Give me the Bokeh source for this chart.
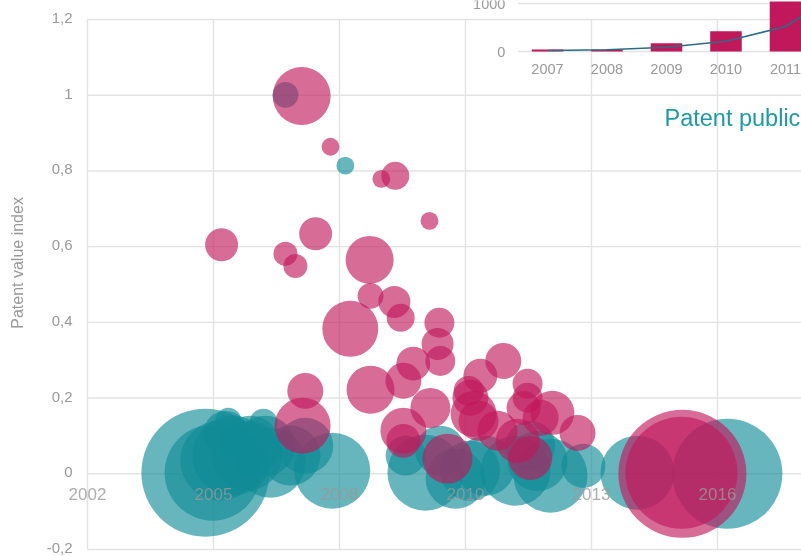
import math
from bokeh.plotting import figure
from bokeh.models import Range1d
from bokeh.core.properties import value
from bokeh.embed import file_html
from bokeh.resources import INLINE

# ---------------- data ----------------
x_tick_values = [2002.0, 2004.8, 2007.6, 2010.4, 2013.2, 2016.0]
x_tick_labels = ["2002", "2005", "2008", "2010", "2013", "2016"]
y_tick_values = [-0.2, 0.0, 0.2, 0.4, 0.6, 0.8, 1.0, 1.2]
y_tick_labels = ["-0,2", "0", "0,2", "0,4", "0,6", "0,8", "1", "1,2"]
y_title = "Patent value index"

teal_year = [2006.40, 2007.73, 2004.62, 2004.78, 2005.22, 2005.07, 2005.13, 2005.91,
             2006.07, 2005.62, 2006.84, 2007.44, 2006.51, 2009.51, 2010.18, 2010.84,
             2011.51, 2012.29, 2013.02, 2009.84, 2011.84, 2009.07, 2014.22, 2016.22,
             2004.95, 2005.55, 2005.95, 2010.50, 2012.00]
teal_value = [1.001, 0.814, 0.003, 0.003, 0.048, 0.108, 0.140, 0.135,
              0.029, 0.074, 0.074, 0.008, 0.048, 0.003, -0.013, 0.021,
              0.008, -0.005, 0.021, 0.061, 0.074, 0.048, 0.003, 0.0,
              0.035, 0.048, 0.074, 0.008, 0.034]
teal_patents = [42, 20, 1024, 576, 400, 121, 42, 49,
                306, 225, 196, 361, 225, 361, 225, 225,
                306, 342, 121, 156, 156, 100, 342, 756,
                400, 306, 225, 225, 225]

mag_year = [2006.76, 2007.40, 2008.53, 2008.84, 2009.60, 2004.98, 2007.07, 2006.40,
            2006.62, 2008.27, 2008.29, 2008.82, 2008.96, 2007.84, 2009.82, 2009.78,
            2009.84, 2008.29, 2009.02, 2009.24, 2009.62, 2009.02, 2006.84, 2006.78,
            2011.24, 2010.73, 2010.47, 2011.78, 2011.78, 2010.58, 2010.51, 2010.69,
            2012.33, 2012.89, 2011.69, 2012.07, 2011.56, 2010.00, 2011.84, 2009.02,
            2011.11, 2015.22, 2015.20]
mag_value = [0.998, 0.864, 0.779, 0.787, 0.668, 0.605, 0.634, 0.581,
             0.549, 0.565, 0.470, 0.454, 0.412, 0.383, 0.399, 0.343,
             0.298, 0.222, 0.246, 0.291, 0.174, 0.114, 0.219, 0.127,
             0.298, 0.259, 0.219, 0.238, 0.201, 0.158, 0.201, 0.140,
             0.161, 0.108, 0.174, 0.148, 0.087, 0.040, 0.042, 0.087,
             0.114, 0.0, 0.003]
mag_patents = [210, 20, 20, 49, 20, 68, 68, 36,
               36, 144, 42, 64, 49, 196, 56, 64,
               56, 144, 81, 72, 100, 132, 81, 196,
               81, 72, 56, 56, 56, 132, 81, 100,
               121, 81, 72, 81, 121, 156, 121, 72,
               100, 1024, 784]

inset_years = [2007, 2008, 2009, 2010, 2011]
inset_bars = [40, 35, 170, 420, 1040]
inset_line_years = [2007, 2008, 2009, 2010, 2011, 2012]
inset_line = [20, 35, 90, 215, 520, 1300]
inset_ticks = [0, 1000]
inset_tick_labels = ["0", "1000"]
inset_title = "Patent publications"

# ---------------- styles ----------------
TEAL = "#108c96"
MAG = "#c0185a"
GRID = "#e3e3e3"
LABEL = "#999999"
FONT = value("Liberation Sans")

x_start, x_end = 2000.067, 2017.867
p = figure(width=801, height=556, output_backend="svg", toolbar_location=None,
           x_range=Range1d(x_start, x_end), y_range=Range1d(-0.2185, 1.2502),
           x_axis_location=None, y_axis_location=None, min_border_left=0,
           min_border_right=0, min_border_top=0, min_border_bottom=0)
p.styles = {"position": "fixed", "left": "0px", "top": "0px"}
p.outline_line_color = None
p.xgrid.visible = False
p.ygrid.visible = False

# grid lines
x0 = x_tick_values[0]
ymin, ymax = y_tick_values[0], y_tick_values[-1]
p.segment(x0=x_tick_values, x1=x_tick_values, y0=[ymin] * len(x_tick_values),
          y1=[ymax] * len(x_tick_values), line_color=GRID, line_width=1.4)
p.segment(x0=[x0] * len(y_tick_values), x1=[x_end] * len(y_tick_values),
          y0=y_tick_values, y1=y_tick_values, line_color=GRID, line_width=1.4)

# y tick labels and title
p.text(x=[x0] * len(y_tick_values), y=y_tick_values, text=y_tick_labels, x_offset=-15,
       y_offset=-1.5, text_align="right", text_baseline="middle", text_font=FONT,
       text_font_size="15px", text_color=LABEL)
p.text(x=[x0], y=[0.557], text=[y_title], x_offset=-70, angle=math.pi / 2,
       text_align="center", text_baseline="middle", text_font=FONT,
       text_font_size="16px", text_color=LABEL)

# inset chart on extra ranges
ix_end = 2011.269
p.extra_x_ranges = {"ix": Range1d(1997.807, ix_end)}
p.extra_y_ranges = {"iy": Range1d(-10520.8, 1062.5)}
ix0 = inset_years[0] - 0.49
p.segment(x0=[ix0] * 2, x1=[ix_end] * 2, y0=inset_ticks, y1=inset_ticks,
          line_color=GRID, line_width=1.4, x_range_name="ix", y_range_name="iy")
p.vbar(x=inset_years, top=inset_bars, bottom=0, width=0.53, fill_color=MAG,
       line_color=None, x_range_name="ix", y_range_name="iy")
p.line(x=inset_line_years, y=inset_line, line_color="#2d6b84", line_width=1.6,
       x_range_name="ix", y_range_name="iy")
p.text(x=[ix0] * 2, y=inset_ticks, text=inset_tick_labels, x_offset=-13,
       text_align="right", text_baseline="middle", text_font=FONT,
       text_font_size="14.5px", text_color=LABEL, x_range_name="ix", y_range_name="iy")
p.text(x=inset_years, y=[0] * len(inset_years), text=[str(y) for y in inset_years],
       y_offset=17, text_align="center", text_baseline="middle", text_font=FONT,
       text_font_size="14.5px", text_color=LABEL, x_range_name="ix", y_range_name="iy")
p.text(x=[inset_years[2]], y=[0], text=[inset_title], x_offset=-2, y_offset=66,
       text_align="left", text_baseline="middle", text_font=FONT,
       text_font_size="23.5px", text_color="#1f9aa5", x_range_name="ix", y_range_name="iy")

# bubbles
p.scatter(x=teal_year, y=teal_value, size=[4 * math.sqrt(z) for z in teal_patents],
          fill_color=TEAL, fill_alpha=0.63, line_color=None)
p.scatter(x=mag_year, y=mag_value, size=[4 * math.sqrt(z) for z in mag_patents],
          fill_color=MAG, fill_alpha=0.63, line_color=None)

# x labels drawn at y = 0, on top of bubbles
p.text(x=x_tick_values, y=[0] * len(x_tick_values), text=x_tick_labels, y_offset=20,
       text_align="center", text_baseline="middle", text_font=FONT,
       text_font_size="17px", text_color=LABEL, text_alpha=0.8)

open("out.html", "w").write(file_html(p, INLINE))
